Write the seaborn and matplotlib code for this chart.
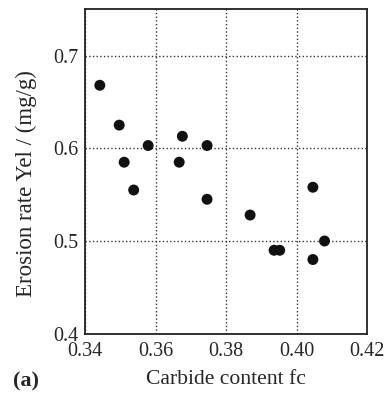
import numpy as np
import pandas as pd
import matplotlib
matplotlib.use('Agg')
import matplotlib.pyplot as plt
from matplotlib.ticker import MultipleLocator
import seaborn as sns

# 데이터
carbide = [0.3442, 0.3497, 0.3511, 0.3538, 0.3579, 0.3667, 0.3676, 0.3746,
           0.3746, 0.3868, 0.3936, 0.3952, 0.4046, 0.4046, 0.4079]
erosion = [0.668, 0.625, 0.585, 0.555, 0.603, 0.585, 0.613, 0.603,
           0.545, 0.528, 0.490, 0.490, 0.480, 0.558, 0.500]
df = pd.DataFrame({'fc': carbide, 'Yel': erosion})

sns.set_style('white')
plt.rcParams['font.family'] = ['Liberation Serif', 'DejaVu Serif']

fig = plt.figure(figsize=(3.89, 4.03), dpi=100)
ax = fig.add_axes([0.2185, 0.172, 0.7255, 0.805])
sns.scatterplot(data=df, x='fc', y='Yel', ax=ax, color='#111111', s=62,
                edgecolor='none', zorder=3)

ax.set_xlim(0.34, 0.42)
ax.set_ylim(0.4, 0.75)
ax.xaxis.set_minor_locator(MultipleLocator(0.01))
ax.yaxis.set_minor_locator(MultipleLocator(0.02))
ax.set_xticks([0.34, 0.36, 0.38, 0.40, 0.42])
ax.set_xticklabels(['0.34', '0.36', '0.38', '0.40', '0.42'])
ax.set_yticks([0.4, 0.5, 0.6, 0.7])
ax.set_yticklabels(['0.4', '0.5', '0.6', '0.7'])
ax.tick_params(which='both', direction='in', top=False, right=False,
               labelsize=14.5, color='#222222')
ax.tick_params(axis='x', which='major', pad=6)
ax.tick_params(axis='y', which='major', pad=5)
ax.tick_params(which='major', length=6, width=1.2)
ax.tick_params(which='minor', length=4, width=1.0)
ax.grid(True, which='major', linestyle=':', color='#333333', linewidth=1.0)
for sp in ax.spines.values():
    sp.set_linewidth(1.3)
    sp.set_color('#222222')

ax.set_xlabel('Carbide content fc', fontsize=15.6)
ax.set_ylabel('Erosion rate Yel / (mg/g)', fontsize=16.5)
ax.xaxis.set_label_coords(0.5, -0.142)
ax.xaxis.label.set_va('center')
ax.yaxis.set_label_coords(-0.208, 0.463)
ax.yaxis.label.set_va('center')
fig.text(0.033, 0.04, '(a)', fontsize=16, fontweight='bold', va='baseline')

fig.savefig('out.png', dpi=100)
